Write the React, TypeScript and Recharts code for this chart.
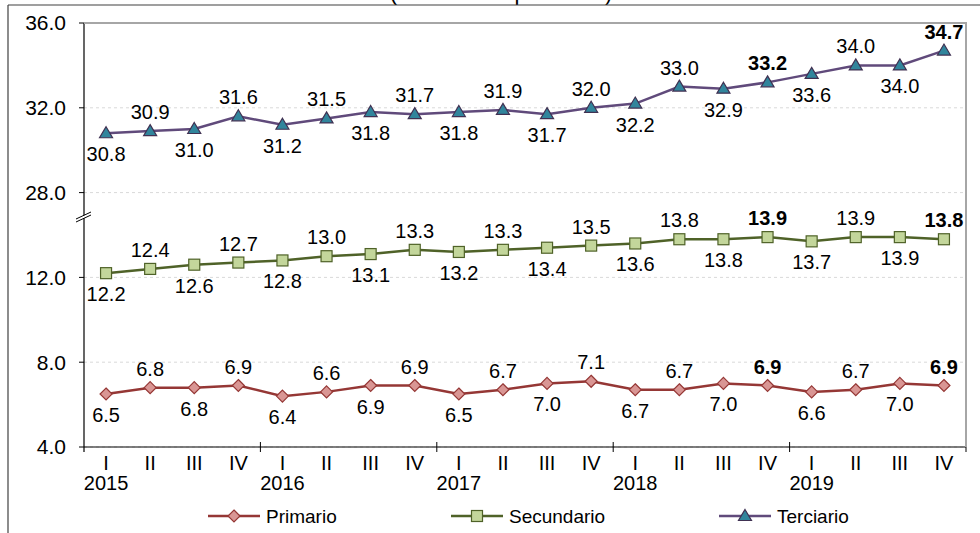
import React from 'react';
import { LineChart, Line, XAxis, YAxis, CartesianGrid } from 'recharts';

const quarters = ['I', 'II', 'III', 'IV', 'I', 'II', 'III', 'IV', 'I', 'II', 'III', 'IV', 'I', 'II', 'III', 'IV', 'I', 'II', 'III', 'IV'];
const years = ['2015', '2016', '2017', '2018', '2019'];
const primario = [6.5, 6.8, 6.8, 6.9, 6.4, 6.6, 6.9, 6.9, 6.5, 6.7, 7.0, 7.1, 6.7, 6.7, 7.0, 6.9, 6.6, 6.7, 7.0, 6.9];
const secundario = [12.2, 12.4, 12.6, 12.7, 12.8, 13.0, 13.1, 13.3, 13.2, 13.3, 13.4, 13.5, 13.6, 13.8, 13.8, 13.9, 13.7, 13.9, 13.9, 13.8];
const terciario = [30.8, 30.9, 31.0, 31.6, 31.2, 31.5, 31.8, 31.7, 31.8, 31.9, 31.7, 32.0, 32.2, 33.0, 32.9, 33.2, 33.6, 34.0, 34.0, 34.7];
const boldIdx = [15, 19];
const seriesNames = ['Primario', 'Secundario', 'Terciario'];
const yTickValues = [4, 8, 12, 28, 32, 36];
const title = '(Millones de personas)';

const W = 980;
const H = 533;
const PLOT_LEFT = 84;
const PLOT_RIGHT = 966;
const PLOT_TOP = 23;
const PLOT_BOTTOM = 447;
const N = quarters.length;
const HALF_BAND = (PLOT_RIGHT - PLOT_LEFT) / N / 2;
const FONT = '"Liberation Sans", Arial, sans-serif';

// Axis break: values from 28 upward are drawn 12 units lower.
const BREAK_SHIFT = 12;
const toAxis = (v: number) => (v >= 28 ? v - BREAK_SHIFT : v);
const fromAxis = (v: number) => (v > 12 ? v + BREAK_SHIFT : v);
const Y_MIN = 4;
const Y_MAX = toAxis(36);
const yPix = (v: number) => PLOT_BOTTOM - ((v - Y_MIN) / (Y_MAX - Y_MIN)) * (PLOT_BOTTOM - PLOT_TOP);

const data = quarters.map((q, i) => ({
  k: `${q}-${i}`,
  p: primario[i],
  s: secundario[i],
  t: toAxis(terciario[i]),
}));

const COLORS = {
  p: { line: '#953735', fill: '#D99694', stroke: '#953735' },
  s: { line: '#4F6228', fill: '#C3D69B', stroke: '#4F6228' },
  t: { line: '#604A7B', fill: '#31859C', stroke: '#403152' },
};

const Diamond = ({ cx, cy }: { cx: number; cy: number }) => (
  <polygon
    points={`${cx},${cy - 6} ${cx + 6},${cy} ${cx},${cy + 6} ${cx - 6},${cy}`}
    fill={COLORS.p.fill}
    stroke={COLORS.p.stroke}
    strokeWidth={1.2}
  />
);
const Square = ({ cx, cy }: { cx: number; cy: number }) => (
  <rect x={cx - 5.5} y={cy - 5.5} width={11} height={11} fill={COLORS.s.fill} stroke={COLORS.s.stroke} strokeWidth={1.2} />
);
const Triangle = ({ cx, cy }: { cx: number; cy: number }) => (
  <polygon
    points={`${cx},${cy - 6.5} ${cx + 6.5},${cy + 4.5} ${cx - 6.5},${cy + 4.5}`}
    fill={COLORS.t.fill}
    stroke={COLORS.t.stroke}
    strokeWidth={1.2}
  />
);

const makeDot = (Shape: any, prefix: string) => (props: any) => {
  const { cx, cy, index } = props;
  if (cx == null || cy == null) return <g key={`${prefix}${index}`} />;
  return <Shape key={`${prefix}${index}`} cx={cx} cy={cy} />;
};

const makeLabel = (raw: number[], prefix: string) => (props: any) => {
  const { x, y, index } = props;
  const above = index % 2 === 1;
  return (
    <text
      key={`${prefix}${index}`}
      x={x}
      y={above ? y - 19 : y + 21}
      textAnchor="middle"
      dominantBaseline="central"
      fontSize={20}
      fontFamily={FONT}
      fontWeight={boldIdx.includes(index) ? 'bold' : 'normal'}
      fill="#000"
    >
      {raw[index].toFixed(1)}
    </text>
  );
};

const XTick = (props: any) => {
  const { x, index } = props;
  const i = typeof index === 'number' ? index : props.payload?.index ?? 0;
  return (
    <g>
      <text x={x} y={PLOT_BOTTOM + 16} textAnchor="middle" dominantBaseline="central" fontSize={20} fontFamily={FONT} fill="#000">
        {quarters[i]}
      </text>
      {i % 4 === 0 && (
        <text x={x} y={PLOT_BOTTOM + 36} textAnchor="middle" dominantBaseline="central" fontSize={20} fontFamily={FONT} fill="#000">
          {years[i / 4]}
        </text>
      )}
      {i % 4 === 0 && i > 0 && (
        <line x1={x - HALF_BAND} x2={x - HALF_BAND} y1={PLOT_BOTTOM - 5} y2={PLOT_BOTTOM + 5} stroke="#000" strokeWidth={1} />
      )}
      {i === N - 1 && (
        <line x1={x + HALF_BAND} x2={x + HALF_BAND} y1={PLOT_BOTTOM - 5} y2={PLOT_BOTTOM + 5} stroke="#000" strokeWidth={1} />
      )}
    </g>
  );
};

const LegendItem = ({ x, name, kind }: { x: number; name: string; kind: 'p' | 's' | 't' }) => {
  const cy = 516;
  const Shape = kind === 'p' ? Diamond : kind === 's' ? Square : Triangle;
  return (
    <g>
      <line x1={x} x2={x + 52} y1={cy} y2={cy} stroke={COLORS[kind].line} strokeWidth={2.5} />
      <Shape cx={x + 26} cy={cy} />
      <text x={x + 58} y={cy} dominantBaseline="central" fontSize={19} fontFamily={FONT} fill="#000">
        {name}
      </text>
    </g>
  );
};

export default function App() {
  const breakY = (yPix(toAxis(28)) + yPix(12)) / 2 - 20;
  return (
    <div style={{ position: 'absolute', left: 0, top: 0, width: W, height: H, background: '#fff' }}>
      <LineChart width={W} height={H} data={data} margin={{ top: PLOT_TOP, right: W - PLOT_RIGHT, left: 0, bottom: H - PLOT_BOTTOM - 60 }}>
        <CartesianGrid vertical={false} stroke="#D9D9D9" strokeDasharray="3 3" />
        <XAxis
          dataKey="k"
          height={60}
          interval={0}
          tickLine={false}
          axisLine={{ stroke: '#000', strokeWidth: 1.2 }}
          padding={{ left: HALF_BAND, right: HALF_BAND }}
          tick={<XTick />}
        />
        <YAxis
          type="number"
          width={PLOT_LEFT}
          domain={[Y_MIN, Y_MAX]}
          ticks={yTickValues.map(toAxis)}
          tickFormatter={(v: number) => fromAxis(v).toFixed(1)}
          tickSize={5}
          tickMargin={13}
          tick={{ fontSize: 21, fill: '#000', fontFamily: FONT }}
          axisLine={{ stroke: '#000', strokeWidth: 1.2 }}
          tickLine={{ stroke: '#000' }}
          allowDataOverflow
        />
        <Line
          dataKey="p"
          stroke={COLORS.p.line}
          strokeWidth={2.5}
          isAnimationActive={false}
          dot={makeDot(Diamond, 'pd')}
          label={makeLabel(primario, 'pl')}
        />
        <Line
          dataKey="s"
          stroke={COLORS.s.line}
          strokeWidth={2.5}
          isAnimationActive={false}
          dot={makeDot(Square, 'sd')}
          label={makeLabel(secundario, 'sl')}
        />
        <Line
          dataKey="t"
          stroke={COLORS.t.line}
          strokeWidth={2.5}
          isAnimationActive={false}
          dot={makeDot(Triangle, 'td')}
          label={makeLabel(terciario, 'tl')}
        />
      </LineChart>
      <svg width={W} height={H} style={{ position: 'absolute', left: 0, top: 0, pointerEvents: 'none' }}>
        <text x={501} y={0} textAnchor="middle" fontSize={22} fontFamily={FONT} fill="#000">
          {title}
        </text>
        <line x1={8} x2={W} y1={5} y2={5} stroke="#404040" strokeWidth={1.2} />
        <line x1={8} x2={8} y1={5} y2={H} stroke="#404040" strokeWidth={1.2} />
        <line x1={PLOT_LEFT} x2={PLOT_RIGHT + 1} y1={PLOT_TOP} y2={PLOT_TOP} stroke="#A6A6A6" strokeWidth={2} />
        <line x1={PLOT_RIGHT} x2={PLOT_RIGHT} y1={PLOT_TOP} y2={PLOT_BOTTOM} stroke="#A6A6A6" strokeWidth={2} />
        <line x1={PLOT_LEFT} x2={PLOT_LEFT} y1={PLOT_BOTTOM} y2={PLOT_BOTTOM + 5} stroke="#000" strokeWidth={1.2} />
        <polygon
          points={`${PLOT_LEFT - 7},${breakY + 4} ${PLOT_LEFT + 7},${breakY - 3} ${PLOT_LEFT + 7},${breakY - 0} ${PLOT_LEFT - 7},${breakY + 7}`}
          fill="#fff"
        />
        <line x1={PLOT_LEFT - 8} x2={PLOT_LEFT + 7} y1={breakY + 4} y2={breakY - 3} stroke="#000" strokeWidth={1} />
        <line x1={PLOT_LEFT - 8} x2={PLOT_LEFT + 7} y1={breakY + 7} y2={breakY} stroke="#000" strokeWidth={1} />
        <LegendItem x={208} name={seriesNames[0]} kind="p" />
        <LegendItem x={451} name={seriesNames[1]} kind="s" />
        <LegendItem x={719} name={seriesNames[2]} kind="t" />
      </svg>
    </div>
  );
}
